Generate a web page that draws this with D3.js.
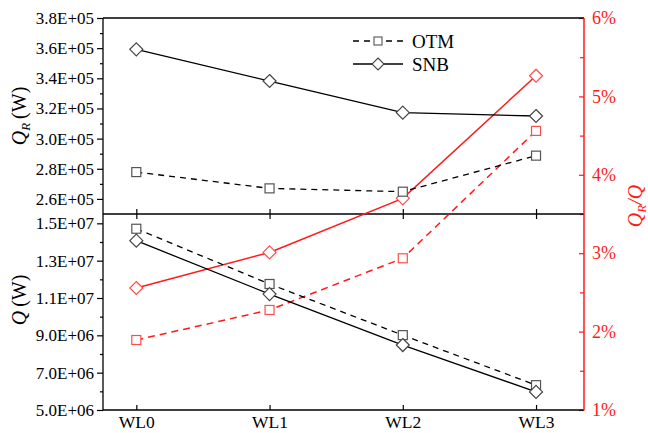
<!DOCTYPE html>
<html>
<head>
<meta charset="utf-8">
<script src="https://cdn.jsdelivr.net/npm/d3@7/dist/d3.min.js"></script>
<style>
  html, body { margin: 0; padding: 0; background: #fff; }
  svg { display: block; }
</style>
</head>
<body>
<svg id="chart" width="648" height="433"></svg>
<script>
// Well-location cases on the shared x axis
const categories = ["WL0", "WL1", "WL2", "WL3"];

// Upper panel: Q_R (W)
const qrOTM = [2.778e5, 2.67e5, 2.648e5, 2.887e5];
const qrSNB = [3.592e5, 3.382e5, 3.172e5, 3.15e5];

// Lower panel: Q (W)
const qOTM = [1.471e7, 1.175e7, 9.01e6, 6.33e6];
const qSNB = [1.407e7, 1.121e7, 8.48e6, 5.97e6];

// Right axis: Q_R/Q (%)
const ratioOTM = [1.893, 2.276, 2.935, 4.56];
const ratioSNB = [2.556, 3.01, 3.70, 5.264];

// Tick values
const qrTicks = [2.6e5, 2.8e5, 3.0e5, 3.2e5, 3.4e5, 3.6e5, 3.8e5];
const qrMinor = [2.7e5, 2.9e5, 3.1e5, 3.3e5, 3.5e5, 3.7e5];
const qTicks = [5e6, 7e6, 9e6, 1.1e7, 1.3e7, 1.5e7];
const qMinor = [6e6, 8e6, 1e7, 1.2e7, 1.4e7];
const ratioTicks = [1, 2, 3, 4, 5, 6];
const ratioMinor = [1.5, 2.5, 3.5, 4.5, 5.5];

const seriesNames = ["OTM", "SNB"];

// Pick the first installed serif face (canvas width test against a monospace baseline)
function pickSerif() {
  const cands = ["Liberation Serif", "Tinos", "DejaVu Serif", "Noto Serif", "Times New Roman",
                 "Nimbus Roman", "Nimbus Roman No9 L", "FreeSerif", "Times", "Georgia"];
  const ctx = document.createElement("canvas").getContext("2d");
  const sample = "WQmilE+05 OTM SNB 1234567890";
  ctx.font = "40px monospace";
  const base = ctx.measureText(sample).width;
  for (const c of cands) {
    ctx.font = `40px "${c}", monospace`;
    if (Math.abs(ctx.measureText(sample).width - base) > 0.5) return `"${c}", serif`;
  }
  return "serif";
}
const FONT = pickSerif();

const L = 103, R = 584, T = 18, B = 410, MID = 214;
const svg = d3.select("#chart");

const x = d3.scaleLinear().domain([-0.25, 3.36]).range([L, R]);
const yTop = d3.scaleLinear().domain([2.5e5, 3.8e5]).range([MID, T]);
const yBot = d3.scaleLinear().domain([5e6, 1.55e7]).range([B, MID]);
const yR = d3.scaleLinear().domain([1, 6]).range([B, T]);

const RED = "#ff1a1a";

// Scientific label like 3.8E+05
function sci(v) {
  const e = Math.floor(Math.log10(v) + 1e-9);
  const m = v / Math.pow(10, e);
  return m.toFixed(1) + "E+" + String(e).padStart(2, "0");
}

function styleAxis(g, color, size) {
  g.attr("font-family", FONT);
  g.selectAll(".domain").remove();
  g.selectAll("line").attr("stroke", color).attr("stroke-width", 1.2);
  g.selectAll("text").attr("fill", color).style("font-size", size + "px").style("font-family", FONT);
}

// Left axes (major + minor ticks pointing outward)
svg.append("g").attr("transform", `translate(${L},0)`)
  .call(d3.axisLeft(yTop).tickValues(qrTicks).tickFormat(sci).tickSizeInner(6).tickSizeOuter(0).tickPadding(3))
  .call(g => styleAxis(g, "#000", 17));
svg.append("g").attr("transform", `translate(${L},0)`)
  .call(d3.axisLeft(yTop).tickValues(qrMinor).tickFormat("").tickSizeInner(3).tickSizeOuter(0))
  .call(g => styleAxis(g, "#000", 17));

svg.append("g").attr("transform", `translate(${L},0)`)
  .call(d3.axisLeft(yBot).tickValues(qTicks).tickFormat(sci).tickSizeInner(6).tickSizeOuter(0).tickPadding(3))
  .call(g => styleAxis(g, "#000", 17));
svg.append("g").attr("transform", `translate(${L},0)`)
  .call(d3.axisLeft(yBot).tickValues(qMinor).tickFormat("").tickSizeInner(3).tickSizeOuter(0))
  .call(g => styleAxis(g, "#000", 17));

// Right axis (ticks pointing inward)
svg.append("g").attr("transform", `translate(${R},0)`)
  .call(d3.axisRight(yR).tickValues(ratioTicks).tickFormat(d => d + "%").tickSizeInner(-5).tickSizeOuter(0).tickPadding(8))
  .call(g => styleAxis(g, RED, 18));
svg.append("g").attr("transform", `translate(${R},0)`)
  .call(d3.axisRight(yR).tickValues(ratioMinor).tickFormat("").tickSizeInner(-4).tickSizeOuter(0))
  .call(g => styleAxis(g, RED, 18));

// Bottom x axis (ticks inward) and labels
svg.append("g").attr("transform", `translate(0,${B})`)
  .call(d3.axisBottom(x).tickValues(d3.range(categories.length)).tickFormat(i => categories[i])
    .tickSizeInner(-5).tickSizeOuter(0).tickPadding(6))
  .call(g => styleAxis(g, "#000", 17.5));

// Tick marks crossing the panel divider
svg.append("g").attr("transform", `translate(0,${MID})`)
  .call(d3.axisBottom(x).tickValues(d3.range(categories.length)).tickFormat("").tickSizeInner(5).tickSizeOuter(0))
  .call(g => styleAxis(g, "#000", 17));
svg.append("g").attr("transform", `translate(0,${MID})`)
  .call(d3.axisTop(x).tickValues(d3.range(categories.length)).tickFormat("").tickSizeInner(5).tickSizeOuter(0))
  .call(g => styleAxis(g, "#000", 17));

// Frame
const frame = svg.append("g").attr("fill", "none");
frame.append("line").attr("x1", L).attr("x2", R).attr("y1", T).attr("y2", T).attr("stroke", "#000").attr("stroke-width", 1.3);
frame.append("line").attr("x1", L).attr("x2", R).attr("y1", B).attr("y2", B).attr("stroke", "#000").attr("stroke-width", 1.3);
frame.append("line").attr("x1", L).attr("x2", R).attr("y1", MID).attr("y2", MID).attr("stroke", "#000").attr("stroke-width", 1.3);
frame.append("line").attr("x1", L).attr("x2", L).attr("y1", T).attr("y2", B).attr("stroke", "#000").attr("stroke-width", 1.3);
frame.append("line").attr("x1", R).attr("x2", R).attr("y1", T).attr("y2", B + 0.6).attr("stroke", RED).attr("stroke-width", 1.5);

// Series drawing helpers
const diamond = s => `M0,${-s}L${s},0L0,${s}L${-s},0Z`;

function drawSeries(values, yScale, opts) {
  const pts = values.map((v, i) => [x(i), yScale(v)]);
  svg.append("path")
    .attr("d", d3.line()(pts))
    .attr("fill", "none")
    .attr("stroke", opts.color)
    .attr("stroke-width", opts.width)
    .attr("stroke-dasharray", opts.dash || null);
  const g = svg.append("g");
  pts.forEach(p => {
    if (opts.marker === "square") {
      g.append("rect").attr("x", p[0] - 4.5).attr("y", p[1] - 4.5).attr("width", 9).attr("height", 9)
        .attr("fill", "#fff").attr("stroke", opts.markColor).attr("stroke-width", 1.2);
    } else {
      g.append("path").attr("d", diamond(6.5)).attr("transform", `translate(${p[0]},${p[1]})`)
        .attr("fill", "#fff").attr("stroke", opts.markColor).attr("stroke-width", 1.2);
    }
  });
}

// Ratio series (red)
drawSeries(ratioOTM, yR, { color: RED, width: 1.5, dash: "7,5", marker: "square", markColor: "#ff4d4d" });
drawSeries(ratioSNB, yR, { color: RED, width: 1.5, marker: "diamond", markColor: "#ff4d4d" });

// Heat series (black)
drawSeries(qrOTM, yTop, { color: "#000", width: 1.3, dash: "6,5", marker: "square", markColor: "#555" });
drawSeries(qrSNB, yTop, { color: "#000", width: 1.3, marker: "diamond", markColor: "#444" });
drawSeries(qOTM, yBot, { color: "#000", width: 1.3, dash: "6,5", marker: "square", markColor: "#555" });
drawSeries(qSNB, yBot, { color: "#000", width: 1.3, marker: "diamond", markColor: "#444" });

// Legend
const legend = svg.append("g").attr("font-family", FONT);
seriesNames.forEach((name, i) => {
  const ly = 41 + i * 23;
  legend.append("line").attr("x1", 353).attr("x2", 403).attr("y1", ly).attr("y2", ly)
    .attr("stroke", "#000").attr("stroke-width", 1.3).attr("stroke-dasharray", i === 0 ? "6,5" : null);
  if (i === 0) {
    legend.append("rect").attr("x", 378 - 4).attr("y", ly - 4).attr("width", 8).attr("height", 8)
      .attr("fill", "#fff").attr("stroke", "#555").attr("stroke-width", 1.1);
  } else {
    legend.append("path").attr("d", diamond(6)).attr("transform", `translate(378,${ly})`)
      .attr("fill", "#fff").attr("stroke", "#444").attr("stroke-width", 1.1);
  }
  legend.append("text").attr("x", 412).attr("y", ly + 7).style("font-size", "19px").style("font-family", FONT)
    .attr("fill", "#000").text(name);
});

// Axis titles
function qTitle(g, sub, rest, color) {
  const t = g.append("text").attr("fill", color).attr("text-anchor", "middle")
    .style("font-size", "20px").style("font-family", FONT);
  t.append("tspan").style("font-style", "italic").text("Q");
  if (sub) t.append("tspan").style("font-style", "italic").style("font-size", "13px").attr("dy", 4).text(sub);
  if (rest) t.append("tspan").attr("dy", sub ? -4 : 0).text(rest);
  return t;
}

qTitle(svg.append("g").attr("transform", "translate(26,116) rotate(-90)"), "R", "\u2009(W)", "#000");
qTitle(svg.append("g").attr("transform", "translate(26,300) rotate(-90)"), null, "\u2009(W)", "#000");

const tt = svg.append("g").attr("transform", "translate(642,206) rotate(-90)")
  .append("text").attr("fill", RED).attr("text-anchor", "middle")
  .style("font-size", "20px").style("font-style", "italic").style("font-family", FONT);
tt.append("tspan").text("Q");
tt.append("tspan").style("font-size", "13px").attr("dy", 4).text("R");
tt.append("tspan").attr("dy", -4).text("/Q");
</script>
</body>
</html>
